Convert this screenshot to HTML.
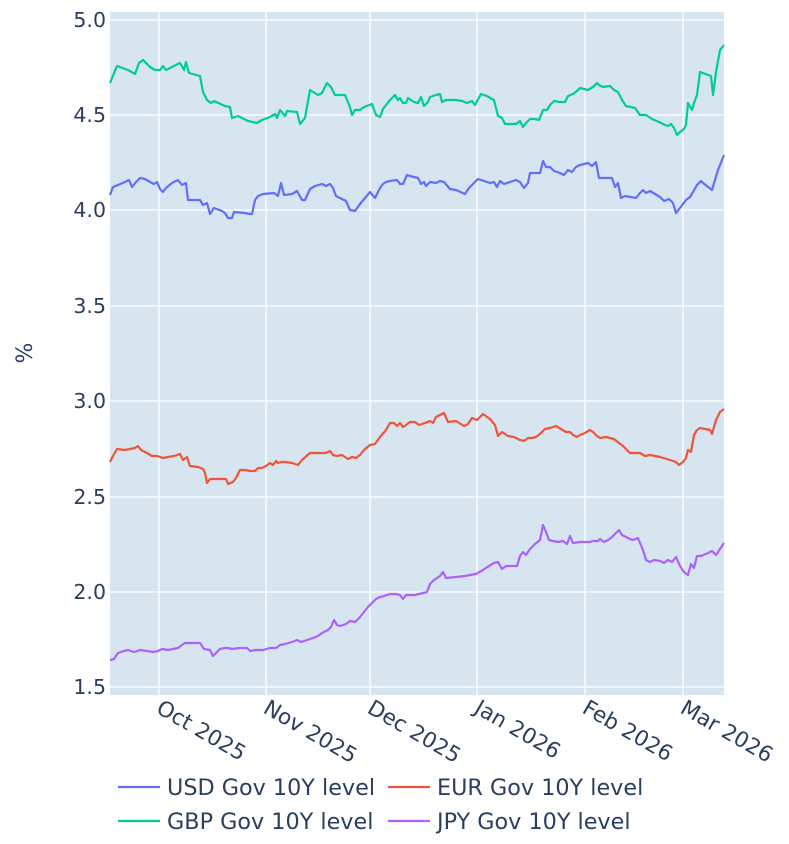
<!DOCTYPE html>
<html><head><meta charset="utf-8"><style>
html,body{margin:0;padding:0;background:#fff;}
svg{display:block;font-family:"DejaVu Sans","Liberation Sans",sans-serif;}
</style></head><body>
<svg width="789" height="844" viewBox="0 0 789 844" xmlns="http://www.w3.org/2000/svg">
<rect x="110" y="12" width="614" height="683" fill="#d6e5f0"/>
<g stroke="#fff" stroke-width="1.3">
<line x1="110" x2="724" y1="20" y2="20"/><line x1="110" x2="724" y1="115" y2="115"/>
<line x1="110" x2="724" y1="210" y2="210"/><line x1="110" x2="724" y1="306" y2="306"/>
<line x1="110" x2="724" y1="401" y2="401"/><line x1="110" x2="724" y1="497" y2="497"/>
<line x1="110" x2="724" y1="592" y2="592"/><line x1="110" x2="724" y1="687" y2="687"/>
<line x1="159" x2="159" y1="12" y2="695"/><line x1="266" x2="266" y1="12" y2="695"/>
<line x1="370" x2="370" y1="12" y2="695"/><line x1="477" x2="477" y1="12" y2="695"/>
<line x1="585" x2="585" y1="12" y2="695"/><line x1="683" x2="683" y1="12" y2="695"/>
</g>
<g fill="none" stroke-width="2.2" stroke-linejoin="round">
<polyline stroke="#00cc96" points="110,83 117,66 128,70 135,74 139,63 143,60 150,67 155,70 160,70 163,66 166,70 172,67 180,63 184,70 186,62 189,73 200,76 203,92 207,100 211,103 214,101 225,106 230,107 232,118 238,116 248,121 257,123 262,120 270,117 275,114 277,118 280,110 285,116 287,111 297,112 300,124 305,118 310,90 318,95 322,93 327,83 331,87 335,95 345,95 350,107 352,115 355,110 360,110 364,107 372,104 376,115 380,117 383,109 390,100 395,95 398,100 400,98 403,103 406,103 408,98 414,102 418,103 421,97 424,106 428,102 430,97 436,95 440,94 442,102 446,100 456,100 462,101 467,103 472,101 475,105 481,94 487,96 492,99 494,100 498,116 502,118 505,124 516,124 520,121 523,127 526,123 530,119 535,119 539,120 543,110 547,110 550,105 554,101 560,102 565,102 568,96 573,94 577,91 580,88 588,90 593,87 597,83 599,85 603,87 610,86 614,90 618,92 622,100 626,106 635,108 640,115 646,115 652,119 659,122 665,125 668,126 671,124 674,128 677,135 680,132 684,129 686,125 688,103 692,110 694,103 697,95 700,72 711,76 713,95 716,72 720,50 724,45"/>
<polyline stroke="#636efa" points="110,195 113,187 118,185 125,182 129,180 132,187 136,182 140,178 145,179 150,182 154,184 157,182 160,189 163,192 166,188 172,183 178,180 182,185 186,183 188,200 200,200 203,205 207,203 210,214 214,208 222,211 225,213 228,218 232,218 234,212 245,213 250,214 252,214 255,200 258,196 263,194 274,193 278,196 281,183 284,195 292,194 297,191 302,200 305,200 310,189 315,186 322,184 326,186 330,184 333,188 336,196 340,198 346,201 350,210 355,211 360,204 365,198 370,192 375,198 380,188 383,184 386,182 390,181 397,180 400,184 403,184 407,175 410,176 418,178 421,184 424,182 426,186 430,182 436,183 440,181 444,182 450,189 456,190 465,194 469,188 473,184 478,179 484,181 490,183 494,182 497,187 500,181 504,184 510,182 516,180 520,182 524,188 528,183 530,173 540,173 543,161 546,167 550,167 554,171 560,173 564,175 568,170 572,172 576,167 580,165 588,163 592,166 596,162 599,178 612,178 615,187 618,183 621,198 625,196 636,198 640,193 643,190 646,193 650,191 655,194 660,197 664,201 669,199 673,203 676,213 680,208 686,200 690,197 693,192 697,185 701,181 703,183 712,190 718,170 724,155"/>
<polyline stroke="#ef553b" points="110,462 113,456 117,449 125,450 130,449 135,448 138,446 141,450 147,453 152,456 157,456 163,458 168,457 174,456 180,454 183,460 187,457 190,466 198,467 203,469 205,473 207,483 210,479 220,479 226,479 228,484 233,482 236,478 240,470 245,470 250,471 255,471 258,468 262,468 266,466 270,463 273,465 276,461 278,463 281,462 285,462 292,463 298,465 302,460 310,453 320,453 326,453 330,451 333,455 337,456 342,455 348,459 352,457 356,458 360,455 364,450 370,445 375,444 380,437 386,430 390,423 394,423 397,426 400,423 403,427 406,425 410,422 415,422 419,425 425,423 430,421 433,423 436,417 440,415 444,413 448,422 456,421 464,426 468,424 472,418 477,420 483,414 490,419 495,425 498,436 502,432 508,436 514,437 520,440 524,441 528,438 532,438 536,437 540,434 545,429 550,428 556,426 561,429 566,432 570,432 573,435 577,437 580,435 585,433 590,430 593,432 597,436 600,438 606,437 614,439 619,443 623,446 626,449 630,453 640,453 645,456 650,455 660,457 670,460 676,462 679,465 683,462 686,458 688,450 691,452 694,435 697,430 700,428 710,430 712,434 716,420 720,412 724,409"/>
<polyline stroke="#ab63fa" points="110,660 114,659 118,653 124,651 128,650 134,652 140,650 147,651 153,652 158,651 162,649 168,650 173,649 178,648 182,645 185,643 190,643 200,643 204,649 210,650 213,656 216,653 220,649 225,648 228,648 232,649 240,648 247,648 250,651 255,650 260,650 263,650 270,648 276,648 280,645 285,644 292,642 297,640 301,642 307,640 313,638 318,636 322,633 328,630 331,627 334,620 337,625 340,626 346,624 350,621 355,622 360,617 364,612 368,607 372,603 376,599 380,597 384,596 390,594 396,594 400,595 403,599 406,595 415,595 423,593 427,592 430,584 434,580 440,576 443,572 446,578 456,577 465,576 470,575 476,574 483,570 489,566 494,563 498,562 502,569 506,566 514,566 517,566 520,556 523,552 526,555 530,549 535,544 540,540 543,525 546,532 549,540 553,541 558,542 563,541 567,544 570,536 573,543 580,542 590,542 593,541 598,541 600,539 604,542 608,540 612,537 615,534 619,530 622,535 626,537 630,539 633,540 638,538 640,543 643,550 646,560 650,562 654,560 660,561 664,563 668,560 672,562 676,557 680,566 684,572 688,575 691,564 694,568 697,556 701,556 708,553 712,551 716,555 720,549 724,543"/>
</g>
<g fill="#2a3f5f" font-size="20.5" text-anchor="end">
<text x="106" y="27">5.0</text><text x="106" y="122">4.5</text><text x="106" y="217">4.0</text>
<text x="106" y="313">3.5</text><text x="106" y="408">3.0</text><text x="106" y="504">2.5</text>
<text x="106" y="599">2.0</text><text x="106" y="694">1.5</text>
</g>
<text x="32" y="353" fill="#2a3f5f" font-size="22" transform="rotate(-90 32 353)" text-anchor="middle">%</text>
<g fill="#2a3f5f" font-size="21.5">
<text transform="translate(155,712) rotate(30)">Oct 2025</text>
<text transform="translate(262,712) rotate(30)">Nov 2025</text>
<text transform="translate(366,712) rotate(30)">Dec 2025</text>
<text transform="translate(473,712) rotate(30)">Jan 2026</text>
<text transform="translate(581,712) rotate(30)">Feb 2026</text>
<text transform="translate(679,712) rotate(30)">Mar 2026</text>
</g>
<g stroke-width="2.2">
<line x1="118" x2="160" y1="787" y2="787" stroke="#636efa"/>
<line x1="388" x2="430" y1="787" y2="787" stroke="#ef553b"/>
<line x1="118" x2="160" y1="821" y2="821" stroke="#00cc96"/>
<line x1="388" x2="430" y1="821" y2="821" stroke="#ab63fa"/>
</g>
<g fill="#2a3f5f" font-size="22.3">
<text x="167" y="795">USD Gov 10Y level</text>
<text x="437" y="795">EUR Gov 10Y level</text>
<text x="167" y="829">GBP Gov 10Y level</text>
<text x="437" y="829">JPY Gov 10Y level</text>
</g>
</svg>
</body></html>
